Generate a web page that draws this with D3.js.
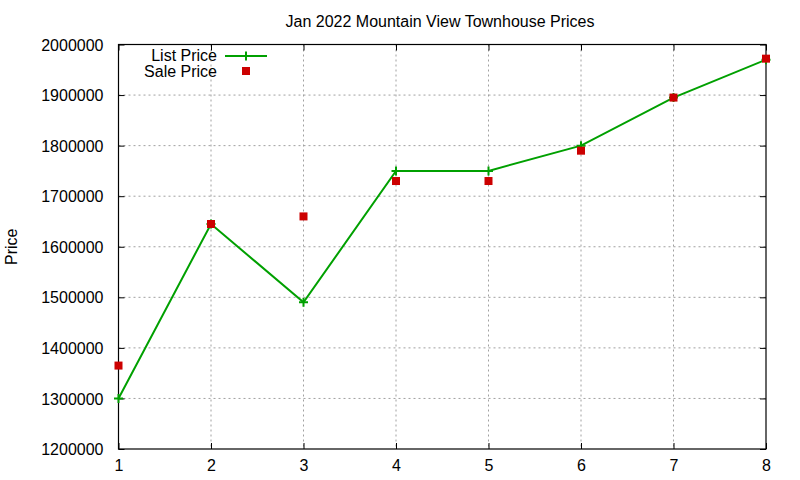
<!DOCTYPE html>
<html lang="en">
<head>
  <meta charset="UTF-8">
  <title>Jan 2022 Mountain View Townhouse Prices</title>
  <script src="https://d3js.org/d3.v7.min.js"></script>
  <style>
    body { margin: 0; background: white; }
    svg { display: block; font-family: "Liberation Sans", Arial, sans-serif; }
    .grid line { stroke: #a0a0a0; stroke-dasharray: 2,3; stroke-width: 1; }
    .tick text { font-size: 16px; fill: #000; }
  </style>
</head>
<body>
  <svg width="800" height="480"></svg>
  <script>
    // data
    const houses = [1, 2, 3, 4, 5, 6, 7, 8];
    const listPrice = [1300000, 1645000, 1490000, 1750000, 1750000, 1800000, 1895000, 1970000];
    const salePrice = [1365000, 1645000, 1660000, 1730000, 1730000, 1790000, 1895000, 1972000];
    const yTicks = [1200000, 1300000, 1400000, 1500000, 1600000, 1700000, 1800000, 1900000, 2000000];

    const svg = d3.select("svg"),
          margin = {top: 44.5, right: 34, bottom: 31, left: 118.5},
          width = +svg.attr("width") - margin.left - margin.right,
          height = +svg.attr("height") - margin.top - margin.bottom;

    const g = svg.append("g").attr("transform", `translate(${margin.left},${margin.top})`);
    const x = d3.scaleLinear().domain([1, 8]).range([0, width]);
    const y = d3.scaleLinear().domain([1200000, 2000000]).range([height, 0]);

    // grid
    const grid = g.append("g").attr("class", "grid");
    grid.selectAll(".gx")
      .data(houses.slice(1, -1))
      .enter().append("line")
      .attr("x1", d => x(d)).attr("x2", d => x(d))
      .attr("y1", 0).attr("y2", height);
    grid.selectAll(".gy")
      .data(yTicks.slice(1, -1))
      .enter().append("line")
      .attr("x1", 0).attr("x2", width)
      .attr("y1", d => y(d)).attr("y2", d => y(d));

    // axes, ticks pointing inwards and mirrored
    const axisStyle = sel => {
      sel.select(".domain").remove();
      sel.selectAll(".tick line").attr("stroke", "#000");
    };
    g.append("g")
      .attr("transform", `translate(0,${height})`)
      .call(d3.axisBottom(x).tickValues(houses).tickFormat(d3.format("d")).tickSizeInner(-6).tickPadding(11))
      .call(axisStyle);
    g.append("g")
      .call(d3.axisLeft(y).tickValues(yTicks).tickFormat(d3.format("d")).tickSizeInner(-6).tickPadding(15))
      .call(axisStyle)
      .selectAll(".tick text").attr("dy", "0.35em");
    g.append("g")
      .call(d3.axisTop(x).tickValues(houses).tickFormat("").tickSizeInner(-6))
      .call(axisStyle);
    g.append("g")
      .attr("transform", `translate(${width},0)`)
      .call(d3.axisRight(y).tickValues(yTicks).tickFormat("").tickSizeInner(-6))
      .call(axisStyle);

    g.append("rect")
      .attr("width", width).attr("height", height)
      .attr("fill", "none").attr("stroke", "#000").attr("stroke-width", 1.2);

    // list price line with plus markers
    const listData = houses.map((h, i) => ({x: h, y: listPrice[i]}));
    const saleData = houses.map((h, i) => ({x: h, y: salePrice[i]}));
    const green = "#00a000", red = "#cc0000";
    const plusPath = "M-4.5,0H4.5M0,-4.5V4.5";

    g.append("path")
      .datum(listData)
      .attr("fill", "none")
      .attr("stroke", green)
      .attr("stroke-width", 2)
      .attr("d", d3.line().x(d => x(d.x)).y(d => y(d.y)));

    g.selectAll(".plus")
      .data(listData)
      .enter().append("path")
      .attr("transform", d => `translate(${x(d.x)},${y(d.y)})`)
      .attr("d", plusPath)
      .attr("stroke", green)
      .attr("stroke-width", 2);

    g.selectAll(".sq")
      .data(saleData)
      .enter().append("rect")
      .attr("x", d => x(d.x) - 4)
      .attr("y", d => y(d.y) - 4)
      .attr("width", 8).attr("height", 8)
      .attr("fill", red);

    // legend
    const legend = svg.append("g").attr("font-size", 16);
    legend.append("text").attr("x", 217).attr("y", 55.5).attr("dy", "0.35em")
      .attr("text-anchor", "end").text("List Price");
    legend.append("line").attr("x1", 225).attr("x2", 267).attr("y1", 56).attr("y2", 56)
      .attr("stroke", green).attr("stroke-width", 2);
    legend.append("path").attr("transform", "translate(246,56)")
      .attr("d", plusPath).attr("stroke", green).attr("stroke-width", 2);
    legend.append("text").attr("x", 217).attr("y", 71.5).attr("dy", "0.35em")
      .attr("text-anchor", "end").text("Sale Price");
    legend.append("rect").attr("x", 242).attr("y", 67).attr("width", 8).attr("height", 8)
      .attr("fill", red);

    // title and y label
    svg.append("text")
      .attr("x", 440).attr("y", 27)
      .attr("text-anchor", "middle")
      .attr("font-size", 16)
      .text("Jan 2022 Mountain View Townhouse Prices");

    svg.append("text")
      .attr("transform", `translate(17,${margin.top + height / 2}) rotate(-90)`)
      .attr("text-anchor", "middle")
      .attr("font-size", 16)
      .text("Price");
  </script>
</body>
</html>
